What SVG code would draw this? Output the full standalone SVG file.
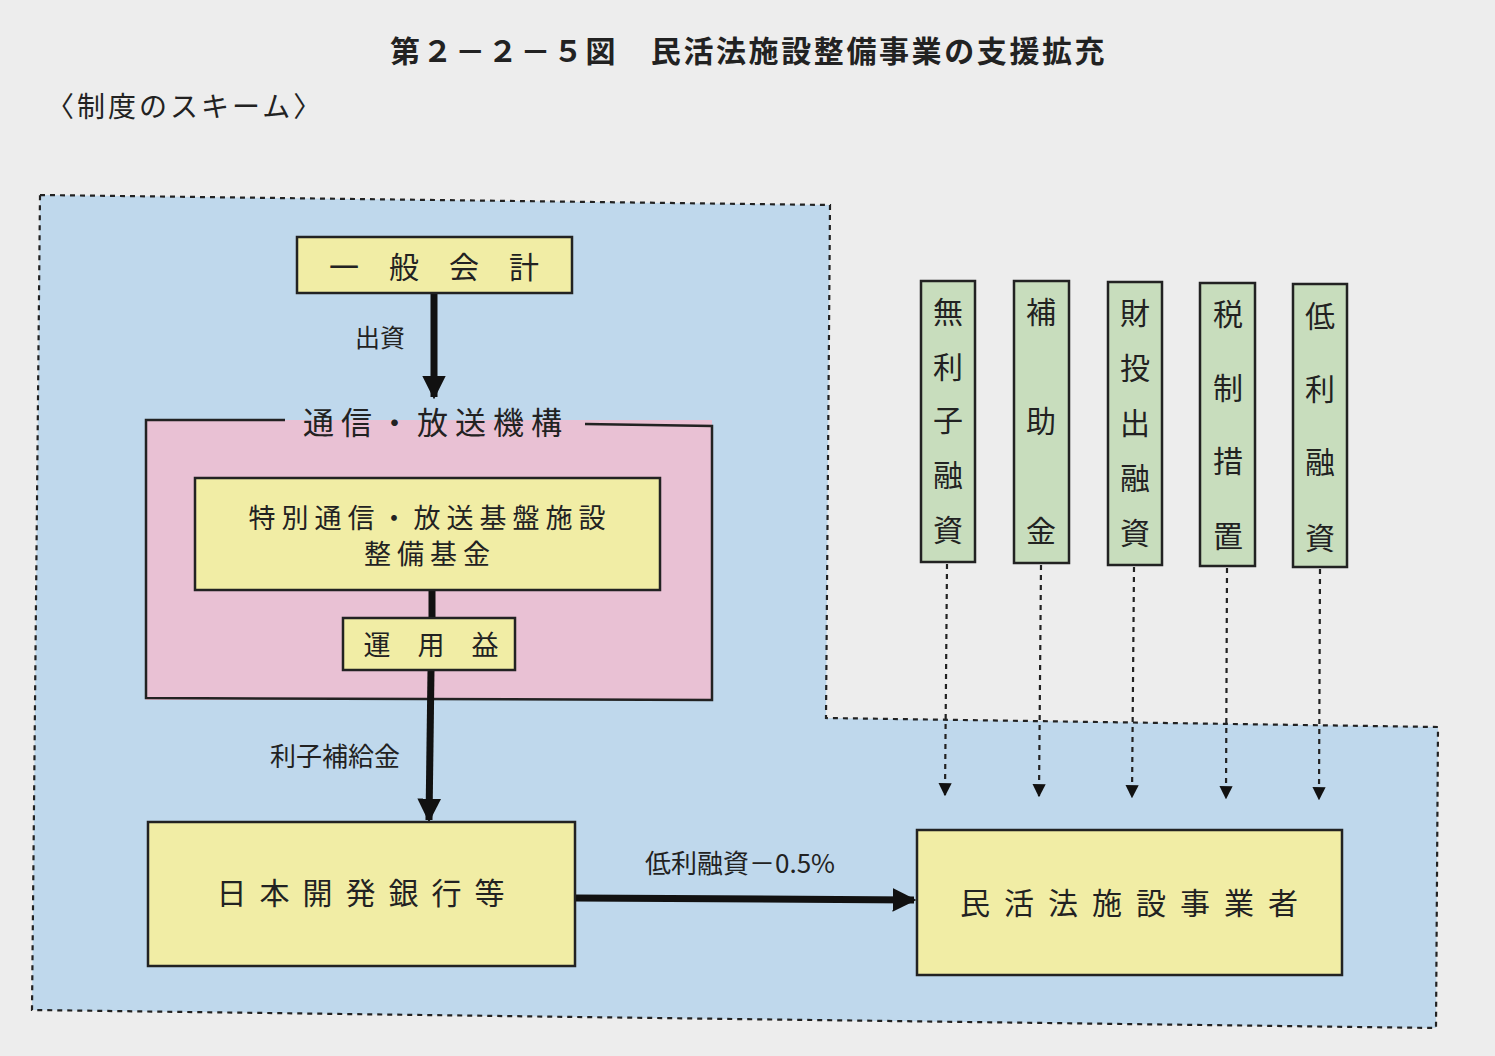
<svg xmlns="http://www.w3.org/2000/svg" width="1495" height="1056" viewBox="0 0 1495 1056">
<defs>
<style>
text{font-family:"Noto Sans CJK JP","Noto Sans",sans-serif;fill:#222;}
.title{font-size:30px;font-weight:bold;letter-spacing:2.6px;}
.sub{font-size:28px;letter-spacing:3px;}
.box{fill:#f1eda5;stroke:#222;stroke-width:2.5;}
.green{fill:#c8ddbd;stroke:#222;stroke-width:2.5;}
.lbl{font-size:28px;text-anchor:middle;}
.small{font-size:25px;text-anchor:middle;}
.vt{font-size:30px;text-anchor:middle;}
.thick{stroke:#111;stroke-width:7;fill:none;}
.dash{stroke:#222;stroke-width:2.2;stroke-dasharray:5 5;fill:none;}
</style>
<marker id="ah" viewBox="0 0 10 10" refX="9" refY="5" markerWidth="3.4" markerHeight="3.4" orient="auto" markerUnits="strokeWidth">
<path d="M0,0 L10,5 L0,10 z" fill="#111"/>
</marker>
<marker id="ahs" viewBox="0 0 10 10" refX="9" refY="5" markerWidth="6" markerHeight="6" orient="auto" markerUnits="strokeWidth">
<path d="M0,0 L10,5 L0,10 z" fill="#111"/>
</marker>
</defs>
<rect width="1495" height="1056" fill="#ededed"/>
<text class="title" x="390" y="62">第２－２－５図　民活法施設整備事業の支援拡充</text>
<text class="sub" x="46" y="117">〈制度のスキーム〉</text>

<g id="region">
<polygon points="40,195 830,205 826,718 1438,727 1436,1028 32,1010" fill="#bfd8ec" stroke="#222" stroke-width="2.2" stroke-dasharray="5 5"/>
</g>

<g id="kikou">
<rect x="146" y="420" width="566" height="280" fill="#e9c1d4"/>
<polyline points="285,420 146,420 146,698 712,700 712,426 585,424" fill="none" stroke="#222" stroke-width="2.5"/>
<text x="436" y="434" class="lbl" style="font-size:31px;letter-spacing:7px">通信・放送機構</text>
</g>

<g id="connectors">
<line class="thick" x1="434" y1="293" x2="434" y2="397" marker-end="url(#ah)"/>
<line class="thick" x1="432" y1="590" x2="432" y2="620"/>
<line class="thick" x1="431" y1="670" x2="429" y2="820" marker-end="url(#ah)"/>
<line class="thick" x1="575" y1="898" x2="914" y2="900" marker-end="url(#ah)"/>
<line class="dash" x1="947" y1="564" x2="945" y2="795" marker-end="url(#ahs)"/>
<line class="dash" x1="1041" y1="565" x2="1039" y2="796" marker-end="url(#ahs)"/>
<line class="dash" x1="1134" y1="567" x2="1132" y2="797" marker-end="url(#ahs)"/>
<line class="dash" x1="1227" y1="568" x2="1226" y2="798" marker-end="url(#ahs)"/>
<line class="dash" x1="1320" y1="569" x2="1319" y2="799" marker-end="url(#ahs)"/>
<text x="380" y="347" class="small">出資</text>
<text x="335" y="766" class="small" style="font-size:26px">利子補給金</text>
<text x="740" y="873" class="small" style="font-size:26px">低利融資－0.5%</text>
</g>

<g id="ippan">
<rect class="box" x="297" y="237" width="275" height="56"/>
<text class="lbl" x="434" y="278" style="font-size:30px">一　般　会　計</text>
</g>

<g id="kikin">
<rect class="box" x="195" y="478" width="465" height="112"/>
<text class="lbl" x="430" y="528" style="font-size:27px;letter-spacing:6px">特別通信・放送基盤施設</text>
<text class="lbl" x="430" y="564" style="font-size:27px;letter-spacing:6px">整備基金</text>
</g>

<g id="unyou">
<rect class="box" x="343" y="618" width="172" height="52"/>
<text class="lbl" x="431" y="655" style="font-size:27px">運　用　益</text>
</g>

<g id="kaigin">
<rect class="box" x="148" y="822" width="427" height="144"/>
<text class="lbl" x="367" y="904" style="font-size:30px;letter-spacing:13px">日本開発銀行等</text>
</g>

<g id="jigyousha">
<rect class="box" x="917" y="830" width="425" height="145"/>
<text class="lbl" x="1136" y="914" style="font-size:30px;letter-spacing:14px">民活法施設事業者</text>
</g>

<g id="g1">
<rect class="green" x="921" y="281" width="54" height="281"/>
<text class="vt" x="948" y="323">無</text><text class="vt" x="948" y="378">利</text><text class="vt" x="948" y="431">子</text><text class="vt" x="948" y="486">融</text><text class="vt" x="948" y="541">資</text>
</g>
<g id="g2">
<rect class="green" x="1014" y="281" width="55" height="282"/>
<text class="vt" x="1041" y="323">補</text><text class="vt" x="1041" y="432">助</text><text class="vt" x="1041" y="542">金</text>
</g>
<g id="g3">
<rect class="green" x="1108" y="282" width="54" height="283"/>
<text class="vt" x="1135" y="324">財</text><text class="vt" x="1135" y="379">投</text><text class="vt" x="1135" y="434">出</text><text class="vt" x="1135" y="489">融</text><text class="vt" x="1135" y="544">資</text>
</g>
<g id="g4">
<rect class="green" x="1200" y="283" width="55" height="283"/>
<text class="vt" x="1228" y="325">税</text><text class="vt" x="1228" y="399">制</text><text class="vt" x="1228" y="472">措</text><text class="vt" x="1228" y="547">置</text>
</g>
<g id="g5">
<rect class="green" x="1293" y="284" width="54" height="283"/>
<text class="vt" x="1320" y="327">低</text><text class="vt" x="1320" y="400">利</text><text class="vt" x="1320" y="473">融</text><text class="vt" x="1320" y="549">資</text>
</g>
</svg>
